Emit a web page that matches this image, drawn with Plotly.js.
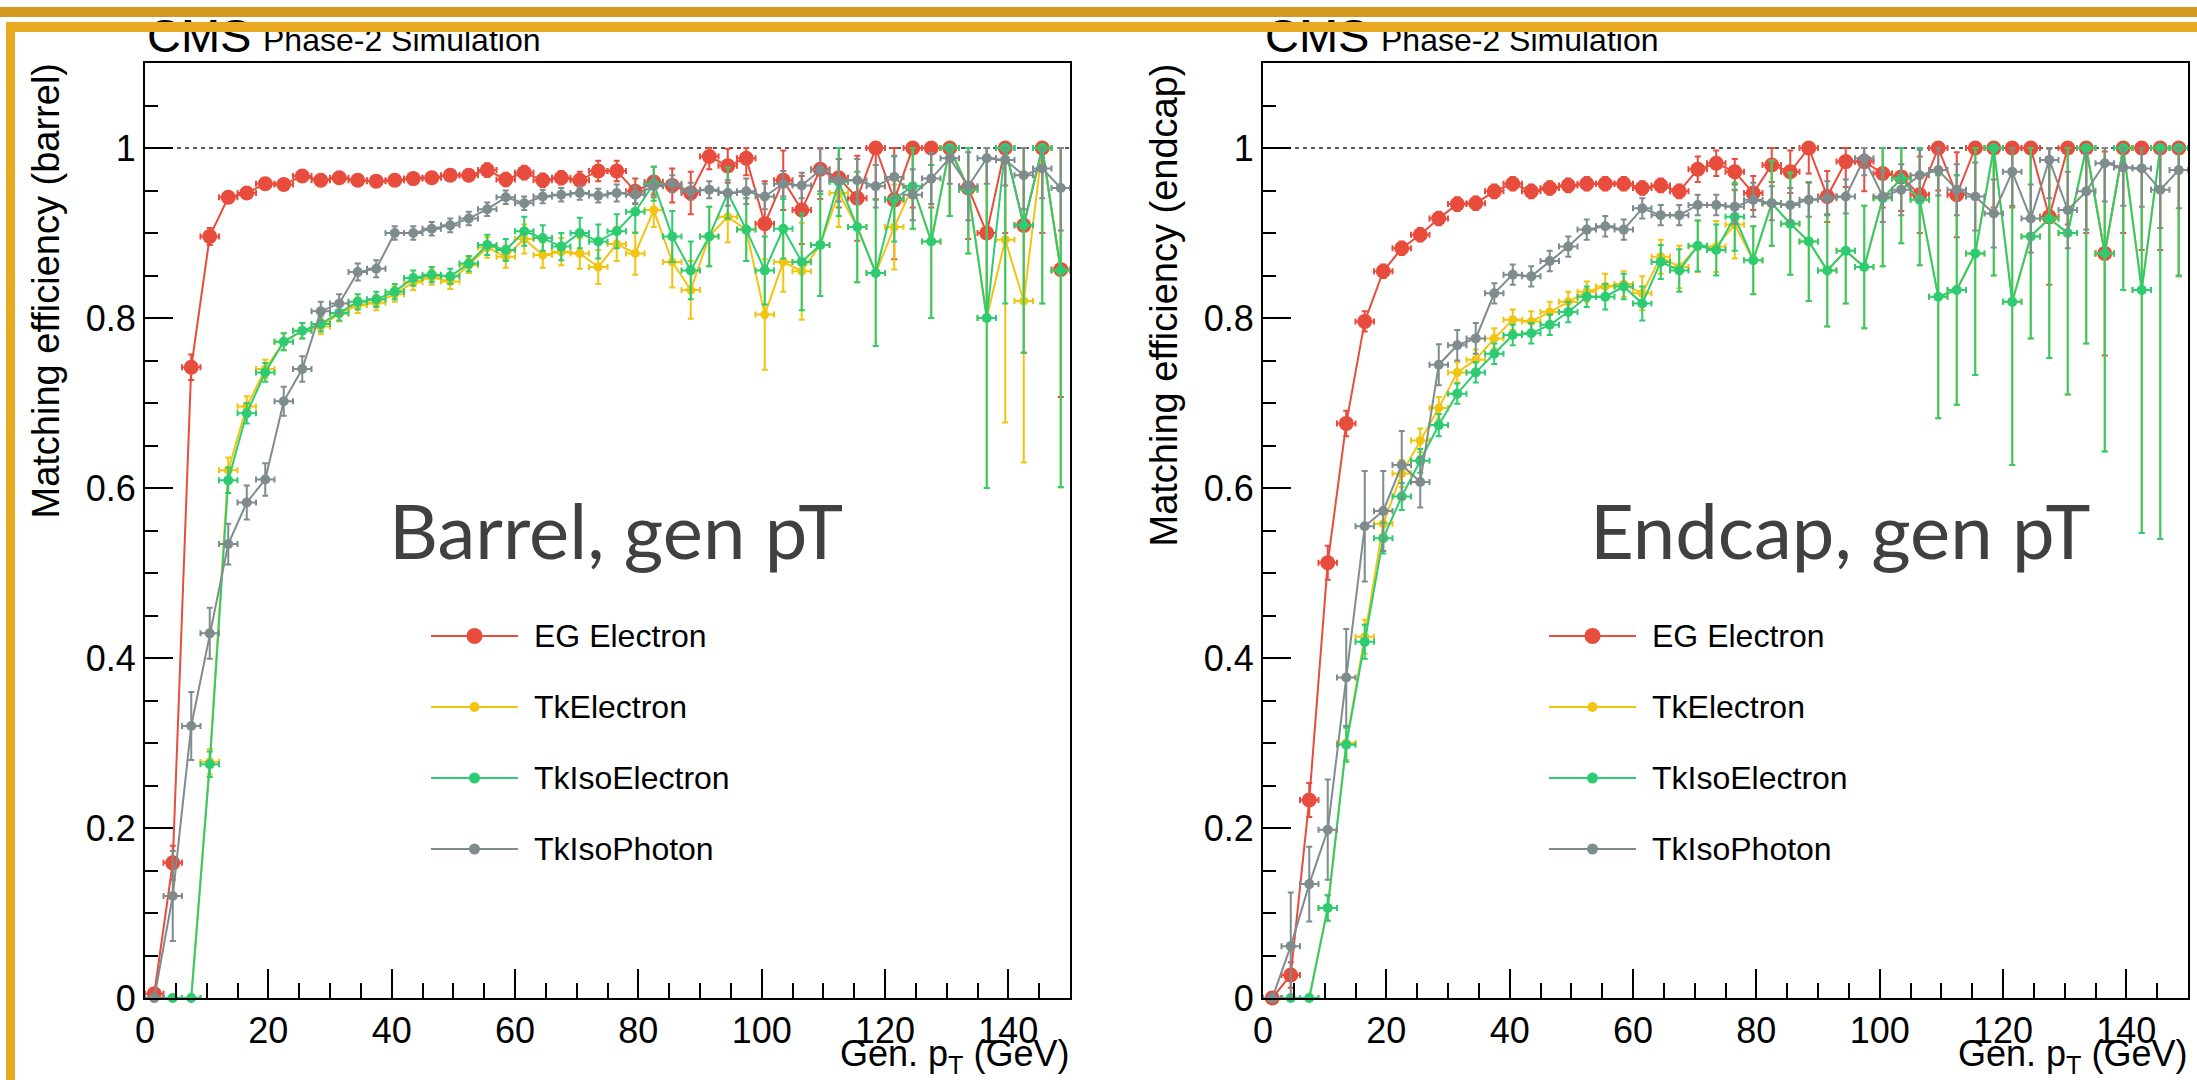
<!DOCTYPE html>
<html><head><meta charset="utf-8">
<script src="https://cdn.plot.ly/plotly-3.0.1.min.js"></script>
<style>
html,body{margin:0;padding:0;background:#fff;overflow:hidden}
#wrap{position:relative;width:2197px;height:1080px}
#chart{position:absolute;left:0;top:0;width:2197px;height:1080px}
.band{position:absolute;pointer-events:none}
</style>
</head><body><div id="wrap"><div id="chart"></div>
<div class="band" style="left:0;top:7px;width:2197px;height:10px;background:#d6991f"></div>
<div class="band" style="left:6px;top:22px;width:2191px;height:10px;background:#e9a923"></div>
<div class="band" style="left:6px;top:22px;width:9px;height:1058px;background:#e9a923"></div>
</div>
<script>
// Bin centres of generator-level pT (GeV)
const genPt = [1.5,4.5,7.5,10.5,13.5,16.5,19.5,22.5,25.5,28.5,31.5,34.5,37.5,40.5,43.5,46.5,49.5,52.5,55.5,58.5,61.5,64.5,67.5,70.5,73.5,76.5,79.5,82.5,85.5,88.5,91.5,94.5,97.5,100.5,103.5,106.5,109.5,112.5,115.5,118.5,121.5,124.5,127.5,130.5,133.5,136.5,139.5,142.5,145.5,148.5];
const binHalfWidth = 1.5;
const seriesNames = ['EG Electron','TkElectron','TkIsoElectron','TkIsoPhoton'];

// ---- Barrel ----
const barrelEG = [0.005,0.159,0.742,0.896,0.942,0.947,0.958,0.957,0.967,0.962,0.965,0.962,0.961,0.962,0.964,0.965,0.968,0.968,0.974,0.963,0.971,0.962,0.965,0.962,0.973,0.973,0.949,0.960,0.956,0.947,0.990,0.979,0.988,0.911,0.962,0.927,0.975,0.965,0.941,1.0,0.939,1.0,1.0,1.0,0.953,0.900,1.0,0.909,1.0,0.857];
const barrelEGErr = [0.005,0.02,0.015,0.01,0.006,0.006,0.006,0.006,0.006,0.006,0.006,0.006,0.006,0.006,0.006,0.006,0.006,0.006,0.008,0.008,0.008,0.008,0.008,0.01,0.012,0.012,0.015,0.018,0.02,0.025,0.015,0.02,0.02,0.05,0.035,0.04,0.035,0.035,0.05,0.06,0.07,0.07,0.07,0.08,0.06,0.1,0.1,0.15,0.1,0.15];
const barrelTkEle = [0,0,0,0.278,0.621,0.696,0.740,0.772,0.785,0.790,0.805,0.815,0.818,0.828,0.842,0.848,0.843,0.862,0.883,0.872,0.893,0.874,0.878,0.876,0.860,0.887,0.876,0.927,0.866,0.833,0.896,0.919,0.904,0.804,0.866,0.855,0.886,0.947,0.907,0.853,0.907,0.955,0.890,1.0,0.951,0.800,0.892,0.820,1.0,0.856];
const barrelTkEleErr = [0.003,0.003,0.003,0.015,0.015,0.012,0.011,0.01,0.009,0.009,0.009,0.009,0.009,0.009,0.009,0.009,0.009,0.009,0.012,0.013,0.017,0.015,0.016,0.018,0.02,0.02,0.025,0.02,0.03,0.034,0.035,0.03,0.037,0.065,0.035,0.057,0.06,0.04,0.065,0.086,0.05,0.05,0.09,0.08,0.075,0.2,0.215,0.19,0.183,0.255];
const barrelTkIsoEle = [0,0,0,0.275,0.609,0.688,0.736,0.772,0.785,0.793,0.806,0.819,0.822,0.831,0.847,0.851,0.849,0.864,0.886,0.880,0.902,0.894,0.884,0.900,0.890,0.902,0.925,0.958,0.896,0.856,0.896,0.947,0.904,0.856,0.905,0.866,0.886,0.960,0.907,0.853,0.940,0.955,0.890,1.0,0.951,0.800,1.0,0.909,1.0,0.856];
const barrelTkIsoEleErr = [0.003,0.003,0.003,0.015,0.015,0.012,0.011,0.01,0.009,0.009,0.009,0.009,0.009,0.009,0.009,0.009,0.009,0.009,0.012,0.013,0.017,0.015,0.016,0.018,0.02,0.02,0.025,0.02,0.03,0.034,0.035,0.03,0.037,0.04,0.035,0.057,0.06,0.04,0.065,0.086,0.05,0.05,0.09,0.08,0.075,0.2,0.183,0.15,0.183,0.255];
const barrelTkIsoPho = [0,0.12,0.32,0.429,0.534,0.583,0.610,0.702,0.740,0.808,0.817,0.854,0.858,0.900,0.900,0.905,0.909,0.917,0.928,0.942,0.935,0.943,0.945,0.947,0.944,0.947,0.945,0.955,0.958,0.949,0.951,0.947,0.949,0.943,0.958,0.956,0.974,0.962,0.962,0.955,0.966,0.945,0.964,0.988,0.955,0.988,0.986,0.968,0.976,0.953];
const barrelTkIsoPhoErr = [0.005,0.053,0.04,0.03,0.024,0.02,0.019,0.017,0.015,0.011,0.011,0.01,0.01,0.008,0.008,0.008,0.008,0.008,0.008,0.008,0.008,0.008,0.008,0.008,0.008,0.01,0.01,0.01,0.01,0.01,0.01,0.015,0.015,0.015,0.015,0.015,0.025,0.025,0.025,0.025,0.025,0.03,0.03,0.03,0.04,0.03,0.03,0.04,0.035,0.05];

// ---- Endcap ----
const endcapEG = [0,0.027,0.233,0.512,0.676,0.796,0.855,0.882,0.898,0.917,0.934,0.935,0.949,0.958,0.949,0.953,0.956,0.958,0.958,0.958,0.953,0.956,0.949,0.975,0.982,0.972,0.947,0.980,0.972,1.0,0.943,0.984,0.984,0.970,0.966,0.945,1.0,0.945,1.0,1.0,1.0,1.0,0.919,1.0,1.0,0.876,1.0,1.0,1.0,1.0];
const endcapEGErr = [0.003,0.015,0.02,0.02,0.015,0.012,0.008,0.008,0.008,0.008,0.008,0.008,0.008,0.008,0.008,0.008,0.008,0.008,0.008,0.008,0.008,0.008,0.008,0.015,0.015,0.015,0.02,0.02,0.025,0.03,0.03,0.03,0.035,0.04,0.04,0.045,0.05,0.05,0.06,0.07,0.07,0.08,0.08,0.09,0.1,0.12,0.1,0.12,0.12,0.15];
const endcapTkEle = [0,0,0,0.106,0.300,0.425,0.558,0.617,0.656,0.694,0.736,0.751,0.776,0.798,0.796,0.807,0.819,0.831,0.837,0.840,0.829,0.872,0.860,0.884,0.884,0.910,0.868,0.935,0.911,0.890,0.856,0.879,0.860,0.941,0.964,0.939,0.825,0.833,0.876,1.0,0.819,0.896,0.917,0.900,1.0,0.876,1.0,0.833,1.0,1.0];
const endcapTkEleErr = [0.003,0.003,0.003,0.015,0.02,0.02,0.018,0.016,0.014,0.013,0.012,0.012,0.012,0.012,0.012,0.012,0.012,0.012,0.015,0.015,0.02,0.02,0.025,0.03,0.03,0.04,0.04,0.05,0.06,0.07,0.066,0.062,0.072,0.08,0.076,0.077,0.143,0.135,0.143,0.15,0.192,0.12,0.164,0.19,0.23,0.233,0.167,0.286,0.46,0.151];
const endcapTkIsoEle = [0,0,0,0.106,0.298,0.419,0.541,0.590,0.632,0.674,0.711,0.736,0.758,0.780,0.782,0.792,0.807,0.825,0.825,0.837,0.817,0.866,0.856,0.885,0.880,0.919,0.868,0.935,0.911,0.890,0.856,0.879,0.860,0.941,0.964,0.939,0.825,0.833,0.876,1.0,0.819,0.896,0.917,0.900,1.0,0.876,1.0,0.833,1.0,1.0];
const endcapTkIsoEleErr = [0.003,0.003,0.003,0.015,0.02,0.02,0.018,0.016,0.014,0.013,0.012,0.012,0.012,0.012,0.012,0.012,0.012,0.012,0.015,0.015,0.02,0.02,0.025,0.03,0.03,0.04,0.04,0.05,0.06,0.07,0.066,0.062,0.072,0.08,0.076,0.077,0.143,0.135,0.143,0.15,0.192,0.12,0.164,0.19,0.23,0.233,0.167,0.286,0.46,0.151];
const endcapTkIsoPho = [0,0.061,0.134,0.198,0.377,0.555,0.573,0.627,0.607,0.745,0.768,0.776,0.829,0.851,0.849,0.867,0.884,0.904,0.908,0.904,0.929,0.921,0.921,0.933,0.933,0.931,0.939,0.935,0.933,0.939,0.941,0.943,0.988,0.943,0.951,0.968,0.974,0.951,0.943,0.923,0.972,0.917,0.986,0.927,0.949,0.982,0.977,0.976,0.951,0.974];
const endcapTkIsoPhoErr = [0.005,0.063,0.044,0.059,0.057,0.065,0.047,0.04,0.03,0.024,0.018,0.018,0.012,0.012,0.012,0.012,0.012,0.012,0.012,0.012,0.012,0.012,0.012,0.012,0.012,0.02,0.02,0.02,0.02,0.02,0.02,0.02,0.02,0.03,0.03,0.03,0.03,0.03,0.04,0.04,0.04,0.04,0.045,0.045,0.045,0.045,0.045,0.045,0.045,0.045];

const seriesColors = ['#e74c3c','#f1c40f','#2ecc71','#7f8c8d'];
const markerSizes = [15,9,10,10];

const W = 2197, H = 1080;
const FONT = 'Liberation Sans, Arial, Helvetica, sans-serif';

function makeTrace(k, y, err, xa, ya) {
  const c = seriesColors[k];
  return {
    type: 'scatter', mode: 'lines+markers', x: genPt, y: y, name: seriesNames[k],
    xaxis: xa, yaxis: ya, showlegend: false, cliponaxis: false,
    line: {color: c, width: 2},
    marker: {color: c, size: markerSizes[k], symbol: 'circle'},
    error_y: {type: 'data', symmetric: false,
      array: err.map((e, i) => Math.min(e, 1 - y[i])),
      arrayminus: err.map((e, i) => Math.min(e, y[i])),
      color: c, thickness: 2, width: 3},
    error_x: {type: 'constant', value: binHalfWidth, color: c, thickness: 2, width: 3}
  };
}

const barrelSeries = [[barrelEG, barrelEGErr],[barrelTkEle, barrelTkEleErr],[barrelTkIsoEle, barrelTkIsoEleErr],[barrelTkIsoPho, barrelTkIsoPhoErr]];
const endcapSeries = [[endcapEG, endcapEGErr],[endcapTkEle, endcapTkEleErr],[endcapTkIsoEle, endcapTkIsoEleErr],[endcapTkIsoPho, endcapTkIsoPhoErr]];

const traces = [];
barrelSeries.forEach((s, k) => traces.push(makeTrace(k, s[0], s[1], 'x', 'y')));
endcapSeries.forEach((s, k) => traces.push(makeTrace(k, s[0], s[1], 'x2', 'y2')));

const px = v => v / W;
const py = v => 1 - v / H;

function xAxis(domain, anchor) {
  return {domain: domain, anchor: anchor, range: [0, 150], tickmode: 'linear', tick0: 0, dtick: 20,
    ticks: 'inside', ticklen: 29, tickwidth: 2, tickcolor: '#000',
    minor: {dtick: 5, ticks: 'inside', ticklen: 15, tickwidth: 2, tickcolor: '#000'},
    showline: true, mirror: true, linecolor: '#000', linewidth: 2,
    showgrid: false, zeroline: false, fixedrange: true,
    tickfont: {family: FONT, size: 36, color: '#000'}};
}
function yAxis(domain, anchor) {
  return {domain: domain, anchor: anchor, range: [0, 1.1], tickmode: 'linear', tick0: 0, dtick: 0.2,
    ticks: 'inside', ticklen: 28, tickwidth: 2, tickcolor: '#000',
    minor: {dtick: 0.05, ticks: 'inside', ticklen: 13, tickwidth: 2, tickcolor: '#000'},
    showline: true, mirror: true, linecolor: '#000', linewidth: 2,
    showgrid: false, zeroline: false, fixedrange: true,
    tickfont: {family: FONT, size: 36, color: '#000'}};
}

const yDom = [1 - 998 / H, 1 - 63 / H];

const annotations = [];
const shapes = [
  {type: 'line', xref: 'x', yref: 'y', x0: 0, x1: 150, y0: 1, y1: 1, line: {color: '#222', width: 1.5, dash: '4px,4px'}, layer: 'below'},
  {type: 'line', xref: 'x2', yref: 'y2', x0: 0, x1: 150, y0: 1, y1: 1, line: {color: '#222', width: 1.5, dash: '4px,4px'}, layer: 'below'}
];

// legend rows (pixel positions inside each panel, offset per panel)
const legendRowsY = [636, 707, 778, 849];
[[145, 'barrel', 'Barrel, gen pT', 387], [1263, 'endcap', 'Endcap, gen pT', 1588]].forEach(p => {
  const x0 = p[0];
  annotations.push({xref: 'paper', yref: 'paper', x: px(x0), y: py(36), xanchor: 'left', yanchor: 'middle',
    text: 'CMS', showarrow: false, font: {family: FONT, size: 47, color: '#000'}});
  annotations.push({xref: 'paper', yref: 'paper', x: px(x0 + 116), y: py(40), xanchor: 'left', yanchor: 'middle',
    text: 'Phase-2 Simulation', showarrow: false, font: {family: FONT, size: 32, color: '#000'}});
  annotations.push({xref: 'paper', yref: 'paper', x: px(x0 - 99), y: py(62), xanchor: 'center', yanchor: 'top',
    textangle: -90, text: 'Matching efficiency (' + p[1] + ')', showarrow: false,
    font: {family: FONT, size: 38, color: '#000'}});
  annotations.push({xref: 'paper', yref: 'paper', x: px(x0 + 926), y: py(1056), xanchor: 'right', yanchor: 'middle',
    text: 'Gen. p<sub>T</sub> (GeV)', showarrow: false, font: {family: FONT, size: 36, color: '#000'}});
  annotations.push({xref: 'paper', yref: 'paper', x: px(p[3]), y: py(529), xanchor: 'left', yanchor: 'middle',
    text: p[2], showarrow: false, font: {family: 'Lato, sans-serif', size: 76, color: '#404040'}});
  // legend
  const lx = x0 + 286; // line start
  seriesNames.forEach((nm, k) => {
    const yy = legendRowsY[k];
    const c = seriesColors[k];
    shapes.push({type: 'line', xref: 'paper', yref: 'paper', x0: px(lx), x1: px(lx + 87), y0: py(yy), y1: py(yy),
      line: {color: c, width: 2}});
    const r = markerSizes[k] / 2 + 0.5;
    shapes.push({type: 'circle', xref: 'paper', yref: 'paper', xsizemode: 'pixel', ysizemode: 'pixel',
      xanchor: px(lx + 43.5), yanchor: py(yy), x0: -r, x1: r, y0: -r, y1: r,
      fillcolor: c, line: {color: c, width: 0}});
    annotations.push({xref: 'paper', yref: 'paper', x: px(lx + 101), y: py(yy), xanchor: 'left', yanchor: 'middle',
      text: nm, showarrow: false, font: {family: FONT, size: 32, color: '#000'}});
  });
});

const layout = {
  width: W, height: H, margin: {l: 0, r: 0, t: 0, b: 0},
  paper_bgcolor: '#fff', plot_bgcolor: '#fff',
  font: {family: FONT, color: '#000'},
  showlegend: false,
  xaxis: xAxis([145 / W, 1070 / W], 'y'),
  yaxis: yAxis(yDom, 'x'),
  xaxis2: xAxis([1263 / W, 2188 / W], 'y2'),
  yaxis2: yAxis(yDom, 'x2'),
  shapes: shapes,
  annotations: annotations
};

Plotly.newPlot('chart', traces, layout, {displayModeBar: false, staticPlot: true});
</script>
</body></html>
